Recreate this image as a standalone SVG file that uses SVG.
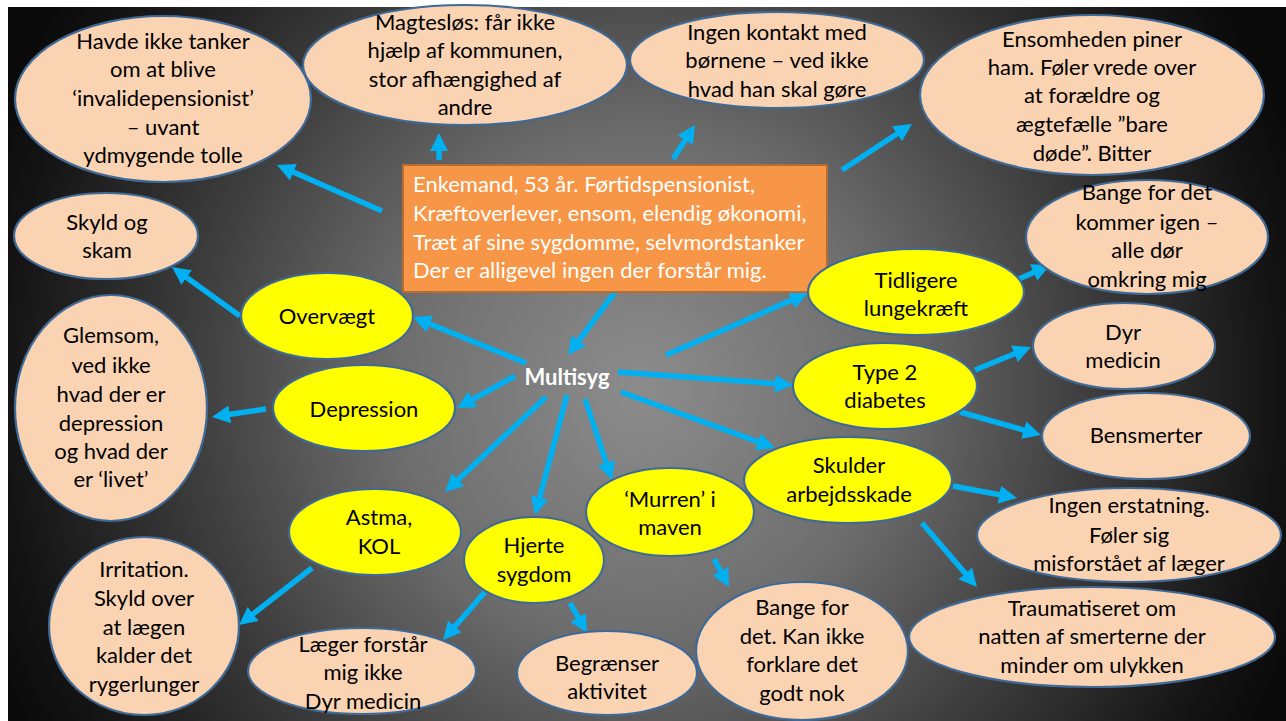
<svg xmlns="http://www.w3.org/2000/svg" width="1286" height="721" viewBox="0 0 1286 721">
<defs>
<radialGradient id="bg" gradientUnits="userSpaceOnUse" cx="640" cy="390" r="700">
<stop offset="0" stop-color="#8c8c8c"/>
<stop offset="0.35" stop-color="#6e6e6e"/>
<stop offset="0.65" stop-color="#3c3c3c"/>
<stop offset="0.9" stop-color="#151515"/>
<stop offset="1" stop-color="#0a0a0a"/>
</radialGradient>
<marker id="ah" markerUnits="userSpaceOnUse" viewBox="0 0 18 18" markerWidth="18" markerHeight="18" refX="3" refY="9" orient="auto">
<path d="M0,0 L18,9 L0,18 z" fill="#00B0F0"/>
</marker>
<style>
.pe{fill:#FAD3B3;stroke:#3F6A97;stroke-width:2.2}
.ye{fill:#FFFF00;stroke:#3F6A97;stroke-width:2.2}
text{font-family:Lato,"Liberation Sans",sans-serif;font-size:22px;fill:#000;text-anchor:middle}
.wt{fill:#fff;text-anchor:start}
.ms{fill:#fff;font-weight:bold}
.c line{stroke:#00B0F0;stroke-width:5.5;marker-end:url(#ah)}
</style>
</defs>
<rect x="0" y="0" width="1286" height="721" fill="#fff"/>
<rect x="8" y="7" width="1278" height="714" fill="url(#bg)"/>

<g id="connectors" class="c">
<line x1="382" y1="211" x2="290.7" y2="171"/>
<line x1="439" y1="160" x2="439" y2="148"/>
<line x1="673" y1="159" x2="686.9" y2="137.6"/>
<line x1="842" y1="170" x2="899.5" y2="132.2"/>
<line x1="615" y1="292" x2="577" y2="343"/>
<line x1="526" y1="363" x2="426.9" y2="322.7"/>
<line x1="515" y1="376" x2="470.1" y2="400.8"/>
<line x1="546" y1="397" x2="455.9" y2="481.7"/>
<line x1="567" y1="395" x2="538.9" y2="500.5"/>
<line x1="585" y1="399" x2="607.3" y2="465.8"/>
<line x1="621" y1="392" x2="760.9" y2="442.9"/>
<line x1="618" y1="372" x2="778" y2="383.9"/>
<line x1="666" y1="355" x2="794.2" y2="299"/>
<line x1="1010" y1="283" x2="1036.3" y2="271.2"/>
<line x1="975" y1="370" x2="1017.1" y2="352.7"/>
<line x1="960" y1="412" x2="1026.6" y2="430.9"/>
<line x1="953" y1="486" x2="1002.3" y2="495.2"/>
<line x1="922" y1="523" x2="967.2" y2="575.6"/>
<line x1="240" y1="316" x2="184.2" y2="275.8"/>
<line x1="266" y1="409" x2="226.8" y2="414.8"/>
<line x1="312" y1="568" x2="250.8" y2="615.8"/>
<line x1="485" y1="592" x2="452.9" y2="628.7"/>
<line x1="570" y1="603" x2="579.6" y2="620"/>
<line x1="714" y1="559" x2="721.9" y2="573.8"/>
</g>

<g id="center-box">
<rect x="403" y="165" width="424" height="127" fill="#F79646" stroke="#B66D31" stroke-width="2"/>
<text class="wt" x="413" y="192">Enkemand, 53 år. Førtidspensionist,</text>
<text class="wt" x="413" y="221">Kræftoverlever, ensom, elendig økonomi,</text>
<text class="wt" x="413" y="250">Træt af sine sygdomme, selvmordstanker</text>
<text class="wt" x="413" y="278">Der er alligevel ingen der forstår mig.</text>
</g>

<g id="multisyg"><text class="ms" x="567" y="385">Multisyg</text></g>

<g id="n-havde">
<ellipse class="pe" cx="163" cy="99" rx="148" ry="83"/>
<text x="163" y="49">Havde ikke tanker</text>
<text x="163" y="77">om at blive</text>
<text x="163" y="106">‘invalidepensionist’</text>
<text x="163" y="135">– uvant</text>
<text x="163" y="163">ydmygende tolle</text>
</g>

<g id="n-magteslos">
<ellipse class="pe" cx="465" cy="65" rx="162" ry="60"/>
<text x="465" y="30">Magtesløs: får ikke</text>
<text x="465" y="58">hjælp af kommunen,</text>
<text x="465" y="87">stor afhængighed af</text>
<text x="465" y="115">andre</text>
</g>

<g id="n-kontakt">
<ellipse class="pe" cx="777" cy="60" rx="147" ry="48"/>
<text x="777" y="40">Ingen kontakt med</text>
<text x="777" y="68">børnene – ved ikke</text>
<text x="777" y="97">hvad han skal gøre</text>
</g>

<g id="n-ensomhed">
<ellipse class="pe" cx="1092" cy="95" rx="172" ry="80"/>
<text x="1092" y="47">Ensomheden piner</text>
<text x="1092" y="75">ham. Føler vrede over</text>
<text x="1092" y="103">at forældre og</text>
<text x="1092" y="132">ægtefælle ”bare</text>
<text x="1092" y="161">døde”. Bitter</text>
</g>

<g id="n-bange-igen">
<ellipse class="pe" cx="1147" cy="237" rx="121" ry="57"/>
<text x="1147" y="200">Bange for det</text>
<text x="1147" y="230">kommer igen –</text>
<text x="1147" y="258">alle dør</text>
<text x="1147" y="287">omkring mig</text>
</g>

<g id="n-skyld">
<ellipse class="pe" cx="106" cy="236" rx="92" ry="43"/>
<text x="107" y="230">Skyld og</text>
<text x="107" y="258">skam</text>
</g>

<g id="n-glemsom">
<ellipse class="pe" cx="111" cy="408" rx="96" ry="113"/>
<text x="111" y="343">Glemsom,</text>
<text x="111" y="373">ved ikke</text>
<text x="111" y="402">hvad der er</text>
<text x="111" y="431">depression</text>
<text x="111" y="459">og hvad der</text>
<text x="111" y="487">er ‘livet’</text>
</g>

<g id="n-irritation">
<ellipse class="pe" cx="144" cy="626" rx="95" ry="89"/>
<text x="144" y="577">Irritation.</text>
<text x="144" y="606">Skyld over</text>
<text x="144" y="635">at lægen</text>
<text x="144" y="663">kalder det</text>
<text x="144" y="692">rygerlunger</text>
</g>

<g id="n-laeger">
<ellipse class="pe" cx="362" cy="671" rx="114" ry="43"/>
<text x="363" y="652">Læger forstår</text>
<text x="363" y="680">mig ikke</text>
<text x="363" y="709">Dyr medicin</text>
</g>

<g id="n-begraenser">
<ellipse class="pe" cx="607" cy="673" rx="90" ry="42"/>
<text x="607" y="671">Begrænser</text>
<text x="607" y="699">aktivitet</text>
</g>

<g id="n-bange-kan">
<ellipse class="pe" cx="802" cy="651" rx="106" ry="69"/>
<text x="802" y="615">Bange for</text>
<text x="802" y="644">det. Kan ikke</text>
<text x="802" y="672">forklare det</text>
<text x="802" y="701">godt nok</text>
</g>

<g id="n-dyr">
<ellipse class="pe" cx="1124" cy="346" rx="91" ry="43"/>
<text x="1123" y="340">Dyr</text>
<text x="1123" y="368">medicin</text>
</g>

<g id="n-bensmerter">
<ellipse class="pe" cx="1146" cy="436" rx="104" ry="43"/>
<text x="1146" y="443">Bensmerter</text>
</g>

<g id="n-erstatning">
<ellipse class="pe" cx="1129" cy="535" rx="152" ry="47"/>
<text x="1129" y="513">Ingen erstatning.</text>
<text x="1129" y="543">Føler sig</text>
<text x="1129" y="571">misforstået af læger</text>
</g>

<g id="n-traume">
<ellipse class="pe" cx="1092" cy="637" rx="183" ry="50"/>
<text x="1092" y="616">Traumatiseret om</text>
<text x="1092" y="644">natten af smerterne der</text>
<text x="1092" y="673">minder om ulykken</text>
</g>

<g id="y-overvaegt">
<ellipse class="ye" cx="327" cy="316" rx="86" ry="43"/>
<text x="327" y="324">Overvægt</text>
</g>

<g id="y-depression">
<ellipse class="ye" cx="364" cy="408" rx="91" ry="43"/>
<text x="364" y="417">Depression</text>
</g>

<g id="y-astma">
<ellipse class="ye" cx="375" cy="532" rx="86" ry="43"/>
<text x="379" y="525">Astma,</text>
<text x="379" y="554">KOL</text>
</g>

<g id="y-hjerte">
<ellipse class="ye" cx="534" cy="560" rx="70" ry="43"/>
<text x="534" y="553">Hjerte</text>
<text x="534" y="582">sygdom</text>
</g>

<g id="y-murren">
<ellipse class="ye" cx="670" cy="512" rx="84" ry="44"/>
<text x="670" y="507">‘Murren’ i</text>
<text x="670" y="535">maven</text>
</g>

<g id="y-skulder">
<ellipse class="ye" cx="848" cy="480" rx="104" ry="43"/>
<text x="849" y="473">Skulder</text>
<text x="849" y="502">arbejdsskade</text>
</g>

<g id="y-type2">
<ellipse class="ye" cx="885" cy="386" rx="92" ry="43"/>
<text x="885" y="380">Type 2</text>
<text x="885" y="408">diabetes</text>
</g>

<g id="y-tidligere">
<ellipse class="ye" cx="916" cy="292" rx="108" ry="43"/>
<text x="916" y="288">Tidligere</text>
<text x="916" y="316">lungekræft</text>
</g>
</svg>
